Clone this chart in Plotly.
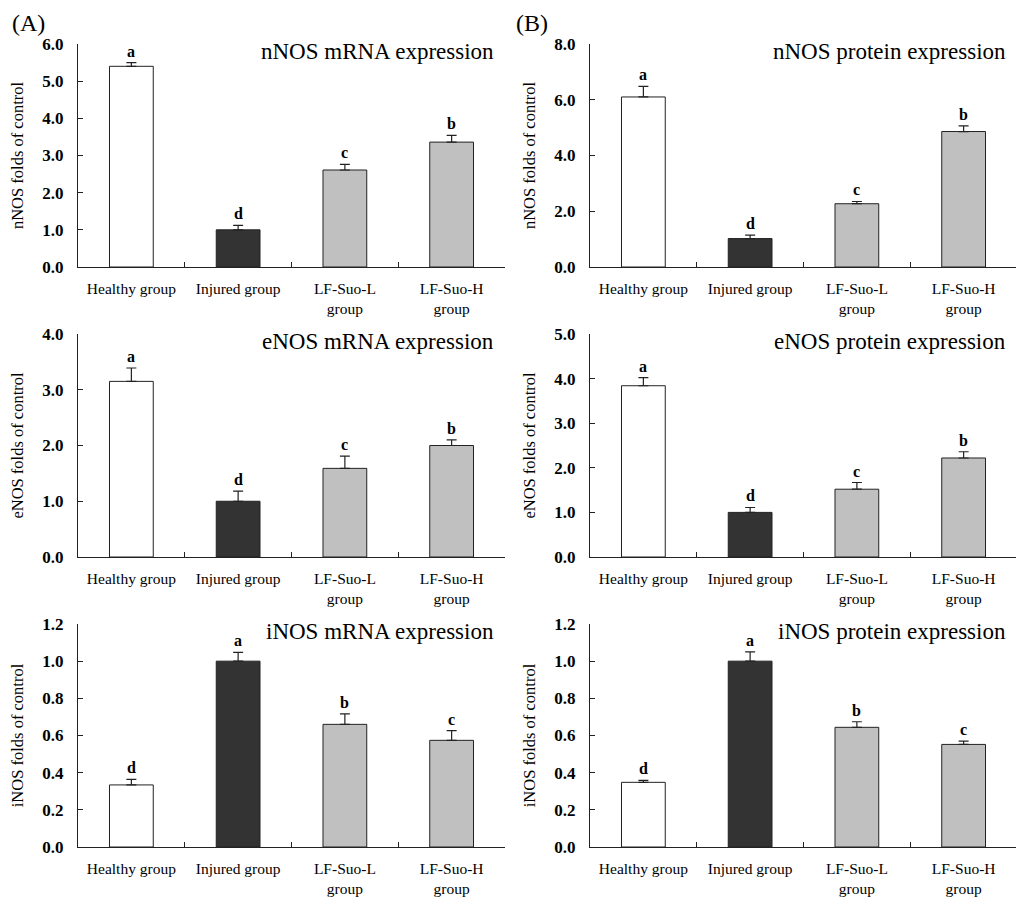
import plotly.graph_objects as go

# groups on the x axis
groups = ["Healthy group", "Injured group", "LF-Suo-L<br>group", "LF-Suo-H<br>group"]
bar_colors = ["#ffffff", "#333333", "#c0c0c0", "#c0c0c0"]

# (A) mRNA expression, folds of control
nnos_mrna = [5.40, 1.00, 2.61, 3.36]
nnos_mrna_err = [0.10, 0.12, 0.15, 0.18]
enos_mrna = [3.15, 1.00, 1.59, 2.00]
enos_mrna_err = [0.24, 0.18, 0.22, 0.10]
inos_mrna = [0.334, 1.00, 0.66, 0.574]
inos_mrna_err = [0.030, 0.047, 0.056, 0.052]

# (B) protein expression, folds of control
nnos_prot = [6.10, 1.02, 2.27, 4.86]
nnos_prot_err = [0.38, 0.12, 0.08, 0.20]
enos_prot = [3.84, 1.00, 1.52, 2.22]
enos_prot_err = [0.18, 0.11, 0.15, 0.14]
inos_prot = [0.348, 1.00, 0.644, 0.552]
inos_prot_err = [0.011, 0.050, 0.030, 0.018]

# significance letters
nnos_letters = ["a", "d", "c", "b"]
enos_letters = ["a", "d", "c", "b"]
inos_letters = ["d", "a", "b", "c"]

panels = [
    # values, errors, letters, title, y label, y max, y step, column, row
    (nnos_mrna, nnos_mrna_err, nnos_letters, "nNOS mRNA expression", "nNOS folds of control", 6.0, 1.0, 0, 0),
    (nnos_prot, nnos_prot_err, nnos_letters, "nNOS protein expression", "nNOS folds of control", 8.0, 2.0, 1, 0),
    (enos_mrna, enos_mrna_err, enos_letters, "eNOS mRNA expression", "eNOS folds of control", 4.0, 1.0, 0, 1),
    (enos_prot, enos_prot_err, enos_letters, "eNOS protein expression", "eNOS folds of control", 5.0, 1.0, 1, 1),
    (inos_mrna, inos_mrna_err, inos_letters, "iNOS mRNA expression", "iNOS folds of control", 1.2, 0.2, 0, 2),
    (inos_prot, inos_prot_err, inos_letters, "iNOS protein expression", "iNOS folds of control", 1.2, 0.2, 1, 2),
]

# the page puts the figure 8px in from the top-left corner
OFF = 8
W, H = 1024 - OFF, 907 - OFF


def px_x(p):
    return (p - OFF) / W


def px_y(p):
    return 1 - (p - OFF) / H


x_doms = [[px_x(78), px_x(505)], [px_x(590), px_x(1017)]]
y_doms = [[px_y(267), px_y(44)], [px_y(557), px_y(334)], [px_y(847), px_y(624)]]

serif = "Liberation Serif"
fig = go.Figure()
layout = {}
annotations = []

for i, (vals, errs, letters, title, ylab, ymax, dy, col, row) in enumerate(panels):
    n = "" if i == 0 else str(i + 1)
    xa, ya = "x" + n, "y" + n
    fig.add_trace(go.Bar(
        x=groups, y=vals, xaxis=xa, yaxis=ya, width=0.41,
        marker=dict(color=bar_colors, line=dict(color="#222222", width=1)),
        error_y=dict(type="data", symmetric=False, array=errs,
                     arrayminus=[0] * len(errs), color="#222222",
                     thickness=1.2, width=5),
        showlegend=False,
    ))
    layout["xaxis" + n] = dict(
        domain=x_doms[col], anchor=ya, type="category", range=[-0.5, 3.5],
        showline=True, linecolor="#222222", linewidth=1, automargin=False,
        ticks="inside", tickson="boundaries", ticklen=5, tickcolor="#222222",
        ticklabelstandoff=7,
        tickfont=dict(family=serif, size=15.5, color="black"),
        showgrid=False, zeroline=False, fixedrange=True,
    )
    layout["yaxis" + n] = dict(
        domain=y_doms[row], anchor=xa, range=[0, ymax], dtick=dy, tick0=0,
        tickformat=".1f", showline=True, linecolor="#222222", linewidth=1,
        automargin=False,
        ticks="inside", ticklen=5, tickcolor="#222222", ticklabelstandoff=10,
        tickfont=dict(family=serif, size=17, color="black", weight="bold"),
        title=dict(text=ylab, font=dict(family=serif, size=16.5, color="black"), standoff=14),
        showgrid=False, zeroline=False,
    )
    # panel title, top right
    annotations.append(dict(
        xref=xa + " domain", yref=ya + " domain", x=0.98, y=0.965,
        xanchor="right", yanchor="middle", text=title, showarrow=False,
        font=dict(family=serif, size=23, color="black"),
    ))
    # significance letters above the error bars
    for g, v, e, L in zip(groups, vals, errs, letters):
        annotations.append(dict(
            xref=xa, yref=ya, x=g, y=v + e, yanchor="bottom", yshift=1,
            text=L, showarrow=False,
            font=dict(family=serif, size=16, color="black", weight="bold"),
        ))

for lab, xp in [("(A)", 10), ("(B)", 514)]:
    annotations.append(dict(
        xref="paper", yref="paper", x=px_x(xp), y=1,
        xanchor="left", yanchor="top", text=lab, showarrow=False,
        font=dict(family=serif, size=24, color="black"),
    ))

fig.update_layout(
    **layout,
    annotations=annotations,
    width=W, height=H,
    margin=dict(l=0, r=0, t=0, b=0, autoexpand=False),
    paper_bgcolor="white", plot_bgcolor="white",
    bargap=0.5,
)

fig.write_html("out.html")
